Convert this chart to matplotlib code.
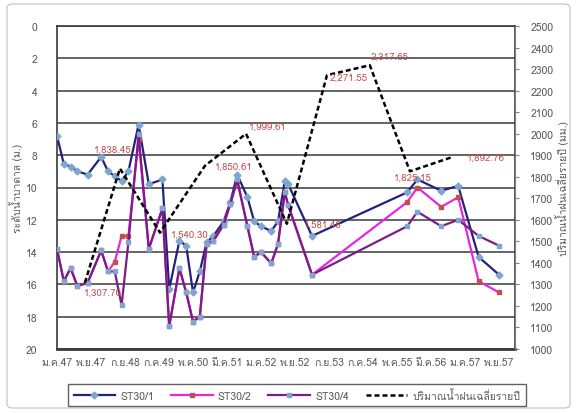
import matplotlib
matplotlib.use("Agg")
import matplotlib.pyplot as plt
from matplotlib import font_manager
from matplotlib.ft2font import FT2Font
from matplotlib.patches import FancyBboxPatch
from matplotlib.lines import Line2D


def families_with_thai():
    names = []
    for entry in font_manager.fontManager.ttflist:
        try:
            ft = FT2Font(entry.fname)
            if ft.get_char_index(0x0E01) and ft.get_char_index(0x0E33):
                if entry.name not in names:
                    names.append(entry.name)
        except Exception:
            pass
    return names


plt.rcParams['font.family'] = families_with_thai() + ['DejaVu Sans']

# months counted from ม.ค.47
months = [0, 2, 4, 6, 9, 13, 15, 17, 19, 21, 24, 27, 31, 33, 36, 38, 40, 42, 44,
          46, 49, 51, 53, 56, 58, 60, 63, 65, 67, 68, 75, 103, 106, 113, 118, 124, 130]

st30_1 = [6.8, 8.55, 8.7, 9.0, 9.2, 8.1, 9.0, 9.3, 9.6, 9.0, 6.1, 9.8, 9.5, 16.3,
          13.3, 13.6, 16.5, 15.2, 13.4, 13.0, 12.1, 10.9, 9.2, 10.6, 12.1, 12.4,
          12.7, 12.1, 9.6, 9.8, 13.0, 10.3, 9.5, 10.2, 9.9, 14.3, 15.4]
st30_2 = [13.8, 15.8, 15.0, 16.1, 15.9, 13.9, 15.2, 14.6, 13.0, 13.0, 7.0, 13.8,
          11.3, 18.6, 15.0, 16.5, 18.3, 18.0, 13.5, 13.3, 12.3, 11.0, 9.6, 12.4,
          14.3, 14.0, 14.7, 13.5, 10.3, 11.1, 15.4, 10.9, 10.0, 11.2, 10.6, 15.8, 16.5]
st30_4 = [13.8, 15.8, 15.0, 16.1, 15.9, 13.9, 15.2, 15.2, 17.3, 13.4, 6.7, 13.8,
          11.3, 18.6, 15.0, 16.5, 18.3, 18.0, 13.5, 13.3, 12.3, 11.0, 9.5, 12.4,
          14.3, 14.0, 14.7, 13.5, 10.3, 11.1, 15.4, 12.4, 11.5, 12.4, 12.0, 13.0, 13.6]

rain_months = [8.2, 18.5, 30.3, 43.5, 55.6, 67.6, 79.4, 92.0, 103.8, 116.5]
rain = [1307.70, 1838.45, 1540.30, 1850.61, 1999.61, 1581.48, 2271.55, 2317.65,
        1825.15, 1892.76]
# label offsets in pixels (dx, dy)
rain_label_offsets = [(18, -9), (-7, 19), (30, -2), (29, 0), (22, 8), (36, 0),
                      (22, -2), (20, 9), (3, -6), (33, 0)]

x_ticks = [0, 10, 20, 30, 40, 50, 60, 70, 80, 90, 100, 110, 120, 130]
x_labels = ["ม.ค.47", "พ.ย.47", "ก.ย.48", "ก.ค.49", "พ.ค.50", "มี.ค.51", "ม.ค.52",
            "พ.ย.52", "ก.ย.53", "ก.ค.54", "พ.ค.55", "มี.ค.56", "ม.ค.57", "พ.ย.57"]
depth_ticks = [0, 2, 4, 6, 8, 10, 12, 14, 16, 18, 20]
rain_ticks = [1000, 1100, 1200, 1300, 1400, 1500, 1600, 1700, 1800, 1900, 2000,
              2100, 2200, 2300, 2400, 2500]

series_names = ["ST30/1", "ST30/2", "ST30/4", "ปริมาณน้ำฝนเฉลี่ยรายปี"]

navy = "#22227A"
magenta = "#E626E0"
purple = "#7C1C86"
marker_blue = "#7FA6CF"
marker_red = "#C0504D"
label_red = "#C0504D"
text_gray = "#595959"

W, H = 577, 414
fig = plt.figure(figsize=(W / 100, H / 100), dpi=100)

# chart frame
frame = FancyBboxPatch((7 / W, 5 / H), 563 / W, 404 / H,
                       boxstyle="round,pad=0,rounding_size=0.01",
                       transform=fig.transFigure, facecolor="none",
                       edgecolor="#BFBFBF", linewidth=0.8, zorder=-5)
fig.patches.append(frame)

L, R, T, B = 57, 515, 27, 350
ax = fig.add_axes([L / W, 1 - B / H, (R - L) / W, (B - T) / H])
ax.set_facecolor("none")

ax.plot(months, st30_1, color=navy, lw=1.6, marker="D", ms=3.5,
        mfc=marker_blue, mec=marker_blue, zorder=3, label=series_names[0])
ax.plot(months, st30_2, color=magenta, lw=1.6, marker="s", ms=3.5,
        mfc=marker_red, mec=marker_red, zorder=4, label=series_names[1])
ax.plot(months, st30_4, color=purple, lw=1.6, marker="s", ms=3.5,
        mfc=marker_blue, mec=marker_blue, zorder=5, label=series_names[2])

ax.set_xlim(0, 134.7)
ax.set_ylim(20, 0)
ax.set_yticks(depth_ticks)
ax.set_xticks(x_ticks)
ax.set_xticklabels(x_labels)
ax.grid(axis="y", color="#3A3A3A", lw=1.1)
ax.set_axisbelow(True)
ax.tick_params(axis="y", length=0, pad=14, labelsize=7.5, labelcolor=text_gray)
ax.tick_params(axis="x", length=0, pad=6, labelsize=7.5, labelcolor=text_gray)
for s in ax.spines.values():
    s.set_color("#3A3A3A")
    s.set_linewidth(1.2)
ax.spines["bottom"].set_linewidth(2.0)
ax.set_ylabel("ระดับน้ำบาดาล (ม.)", fontsize=7.5, color=text_gray, labelpad=2)

ax2 = ax.twinx()
ax2.plot(rain_months, rain, color="black", lw=1.8, ls=(0, (2, 1.2)), zorder=6,
         label=series_names[3])
ax2.set_ylim(1000, 2500)
ax2.set_yticks(rain_ticks)
ax2.tick_params(axis="y", length=3, width=0.8, color="#7F7F7F", pad=8,
                labelsize=7.5, labelcolor=text_gray)
for s in ax2.spines.values():
    s.set_visible(False)
ax2.spines["right"].set_visible(True)
ax2.spines["right"].set_color("#7F7F7F")
ax2.set_ylabel("ปริมาณน้ำฝนเฉลี่ยรายปี (มม.)", fontsize=7.5, color=text_gray,
               labelpad=1)

for m, v, (dx, dy) in zip(rain_months, rain, rain_label_offsets):
    ax2.annotate(f"{v:,.2f}", (m, v), xytext=(dx, dy), textcoords="offset pixels",
                 ha="center", va="center", fontsize=7, color=label_red, zorder=7)

handles = [
    Line2D([], [], color=navy, lw=1.6, marker="D", ms=3.5, mfc=marker_blue, mec=marker_blue),
    Line2D([], [], color=magenta, lw=1.6, marker="s", ms=3.5, mfc=marker_red, mec=marker_red),
    Line2D([], [], color=purple, lw=1.6, marker="s", ms=3.5, mfc=marker_blue, mec=marker_blue),
    Line2D([], [], color="black", lw=1.8, ls=(0, (2, 1.2))),
]
leg = fig.legend(handles, series_names, loc="center", ncol=4,
                 bbox_to_anchor=(297 / W, 1 - 396 / H), fontsize=7.5,
                 handlelength=4, columnspacing=1.6, handletextpad=0.5,
                 frameon=True, fancybox=False, borderpad=0.5)
leg.get_frame().set_edgecolor("#3A3A3A")
leg.get_frame().set_linewidth(1.0)
for t in leg.get_texts():
    t.set_color(text_gray)

fig.savefig("out.png", dpi=100)
